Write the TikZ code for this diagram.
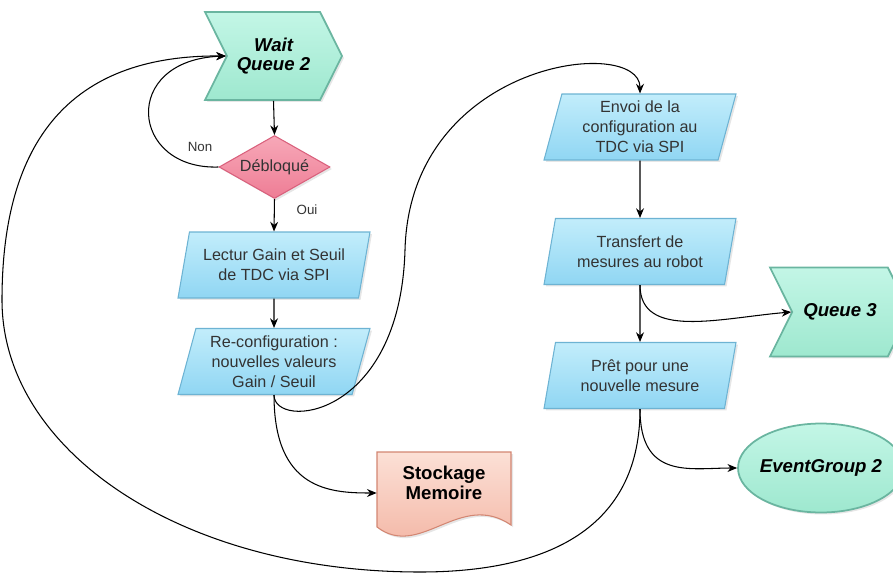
\documentclass[tikz,border=0pt]{standalone}
\usepackage{fontspec}
\setmainfont{Liberation Sans}
\usetikzlibrary{shapes.geometric,shapes.symbols,arrows.meta,shadows,calc}
\definecolor{vertH}{HTML}{C3F6E6}
\definecolor{vertB}{HTML}{9EE8CF}
\definecolor{vertT}{HTML}{6AB5A0}
\definecolor{bleuH}{HTML}{C2EDFB}
\definecolor{bleuB}{HTML}{90D6F3}
\definecolor{bleuT}{HTML}{6DB3D3}
\definecolor{roseH}{HTML}{F7A8B8}
\definecolor{roseB}{HTML}{EE7D95}
\definecolor{roseT}{HTML}{D9607C}
\definecolor{saumH}{HTML}{FCE0D6}
\definecolor{saumB}{HTML}{F2B19F}
\definecolor{saumT}{HTML}{D38672}
\definecolor{texte}{HTML}{333333}
\tikzset{
  ombre/.style={drop shadow={opacity=0.2,shadow xshift=0.04cm,shadow yshift=-0.04cm}},
  para/.style={trapezium, trapezium left angle=72, trapezium right angle=108,
    trapezium stretches body, minimum width=3.84cm, minimum height=1.32cm,
    draw=bleuT, top color=bleuH, bottom color=bleuB, ombre, line width=0.6pt,
    align=center, text=texte, font=\fontsize{9.2}{11.3}\selectfont, inner sep=1pt},
  file/.style={signal, signal from=west, signal to=east, signal pointer angle=127,
    minimum width=2.74cm, minimum height=1.76cm, draw=vertT, line width=1pt,
    top color=vertH, bottom color=vertB, ombre, align=center,
    font=\fontsize{10.6}{11.3}\selectfont\bfseries\itshape, inner sep=1pt},
  fleche/.style={-{Stealth[length=5.5pt,width=4.5pt]}, line width=0.6pt},
  etiq/.style={text=texte, font=\fontsize{7.6}{8}\selectfont}
}
\begin{document}
\begin{tikzpicture}[x=0.02cm,y=-0.02cm]
  \useasboundingbox (0,0) rectangle (893,575);

  \node[file] (wait) at (273.5,56) {Wait\\Queue 2};
  \node[diamond, aspect=1.76, minimum width=2.22cm, minimum height=1.26cm, inner sep=0pt,
        draw=roseT, line width=0.6pt, top color=roseH, bottom color=roseB, ombre,
        text=texte, font=\fontsize{9.2}{10}\selectfont] (debloque) at (274.5,167) {Débloqué};
  \node[para] (lecture) at (274,265) {Lectur Gain et Seuil\\de TDC via SPI};
  \node[para] (reconf) at (274,361.5) {Re-configuration :\\nouvelles valeurs\\Gain / Seuil};
  \node[para] (envoi) at (640,127) {Envoi de la\\configuration au\\TDC via SPI};
  \node[para] (transfert) at (640,251.5) {Transfert de\\mesures au robot};
  \node[para] (pret) at (640,375.5) {Prêt pour une\\nouvelle mesure};
  \node[file, minimum width=2.8cm, minimum height=1.78cm] (queue) at (840,312) {Queue 3};
  \node[ellipse, minimum width=3.32cm, minimum height=1.78cm, inner sep=-2pt,
        draw=vertT, line width=1pt, top color=vertH, bottom color=vertB, ombre,
        font=\fontsize{10.6}{11}\selectfont\bfseries\itshape] (event) at (821,468) {EventGroup 2};

  \draw[draw=saumT, line width=0.6pt, top color=saumH, bottom color=saumB, ombre]
    (377,452) -- (511,452) -- (511,525)
    .. controls (460,490) and (420,560) .. (377,527) -- cycle;
  \node[minimum width=2.68cm, minimum height=1.2cm, align=center,
        font=\fontsize{10.6}{11.3}\selectfont\bfseries] (stockage) at (444,483) {Stockage\\Memoire};

  \draw[fleche] (wait.south) -- (debloque.north);
  \draw[fleche] (debloque.west) .. controls (130,170) and (120,60) .. (wait.west);
  \draw[fleche] (debloque.south) -- (lecture.north);
  \draw[fleche] (lecture.south) -- (reconf.north);
  \draw[fleche] (reconf.south) .. controls (274,490) and (330,493) .. ($(stockage.west)+(0,10)$);
  \draw[fleche] (reconf.south) .. controls (274,430) and (400,420) .. (405,250)
    .. controls (410,60) and (640,35) .. (envoi.north);
  \draw[fleche] (envoi.south) -- (transfert.north);
  \draw[fleche] (transfert.south) -- (pret.north);
  \draw[fleche] (transfert.south) .. controls (640,340) and (720,318) .. (queue.west);
  \draw[fleche] (pret.south) .. controls (640,480) and (690,468) .. (event.west);
  \draw[fleche] (pret.south) .. controls (640,520) and (560,572) .. (420,572)
    .. controls (180,572) and (2,450) .. (2,300)
    .. controls (2,130) and (80,55) .. (wait.west);

  \node[etiq] at (200,147) {Non};
  \node[etiq] at (307,210) {Oui};
\end{tikzpicture}
\end{document}
